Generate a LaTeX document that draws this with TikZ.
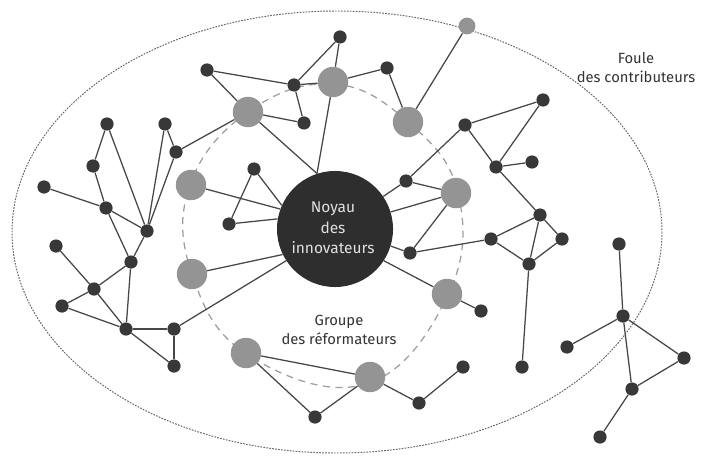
\documentclass[tikz,border=0pt]{standalone}
\usepackage{fontspec}
\setmainfont{Fira Sans}
\usepackage{tikz}
\usetikzlibrary{positioning}
\usepackage{xcolor}

\begin{document}
\begin{tikzpicture}[x=0.025cm, y=-0.025cm,
    dot/.style={circle, fill=black!78, minimum size=0.33cm, inner sep=0pt},
    grey/.style={circle, fill=black!42, minimum size=0.76cm, inner sep=0pt},
    link/.style={draw=black!72, line width=0.9pt},
    lbl/.style={align=center, font=\fontsize{10.5}{13.5}\selectfont, text=black!80}]
  \useasboundingbox (0,0) rectangle (702,459);
  % crowd
  \draw[black!60, line width=0.7pt, dash pattern=on 1.2pt off 0.9pt]
    (337,232) ellipse [x radius=325, y radius=221];
  % reformers ring
  \draw[black!38, line width=0.9pt, dash pattern=on 5pt off 4pt]
    plot[smooth cycle, tension=0.7] coordinates {(333,84) (408,122) (458,193)
      (448,295) (366,384) (248,355) (192,274) (190,185) (248,112)};
  % core
  \node[circle, fill=black!82, minimum size=2.9cm, inner sep=0pt] (core) at (335,229) {};
  \node[lbl, text=black!12, font=\fontsize{11}{14.5}\selectfont] (coretxt) at (333,228)
    {Noyau\\des\\innovateurs};
  % reformers
  \foreach \n/\x/\y in {g1/248/112, g2/333/82, g3/408/122, g4/456/193, g5/447/294,
                        g6/370/377, g7/246/353, g8/192/274, g9/191/185}
    \node[grey] (\n) at (\x,\y) {};
  \node[grey, minimum size=0.42cm] (g10) at (467,26) {};
  % contributors
  \foreach \n/\x/\y in {b1/207/70, b2/107/124, b3/165/124, b4/176/152, b5/93/166,
                        b6/44/187, b7/106/208, b8/147/231, b9/56/246, b10/131/262,
                        b11/94/289, b12/62/306, b13/126/329, b14/174/329, b15/174/366,
                        b16/254/169, b17/229/224, b18/294/85, b19/340/37, b20/387/68,
                        b21/304/123, b22/465/125, b23/543/100, b24/496/167, b25/532/162,
                        b26/406/181, b27/540/215, b28/491/239, b29/562/239, b30/529/264,
                        b31/410/253, b32/481/311, b33/522/367, b34/463/367, b35/419/403,
                        b36/315/417, b37/619/244, b38/623/316, b39/567/347, b40/684/358,
                        b41/632/389, b42/600/437}
    \node[dot] (\n) at (\x,\y) {};
  % links
  \foreach \a/\b in {b1/b18, b1/g1, b18/g2, b18/b21, b18/b19, b19/g2, g1/b21, g1/b4,
                     g2/b20, b20/g3, g3/g10, b2/b5, b2/b8, b5/b7, b7/b10, b6/b7, b7/b8,
                     b3/b8, b3/b4, b4/b8, b8/b10, b10/b13, b9/b11, b11/b10, b12/b11,
                     b11/b13, b12/b13, b13/b14, b13/b15, b14/b15, b16/b17,
                     b22/b23, b22/b24, b23/b24, b24/b25, b24/b27, b22/b26, b26/g4,
                     g4/b31, b31/b28, b28/b27, b28/b30, b27/b29, b27/b30, b29/b30,
                     b30/b33, g5/b32, g6/g7, g7/b36, b36/g6, g6/b35, b35/b34,
                     b37/b38, b38/b39, b38/b40, b38/b41, b40/b41, b41/b42}
    \draw[link] (\a) -- (\b);
  % links to the core
  \foreach \a/\b in {g1/core.108, g2/core.108, g9/core.160, b16/core.156,
                     b17/core.170, g8/core.206, b14/core.213, b26/core.34,
                     g4/core.17, b31/core.343, g5/core.327}
    \draw[link] (\a) -- (\b);
  % labels
  \node[lbl] (foule) at (636,68) {Foule\\des contributeurs};
  \node[lbl] (groupe) at (339,330) {Groupe\\des réformateurs};
\end{tikzpicture}
\end{document}
